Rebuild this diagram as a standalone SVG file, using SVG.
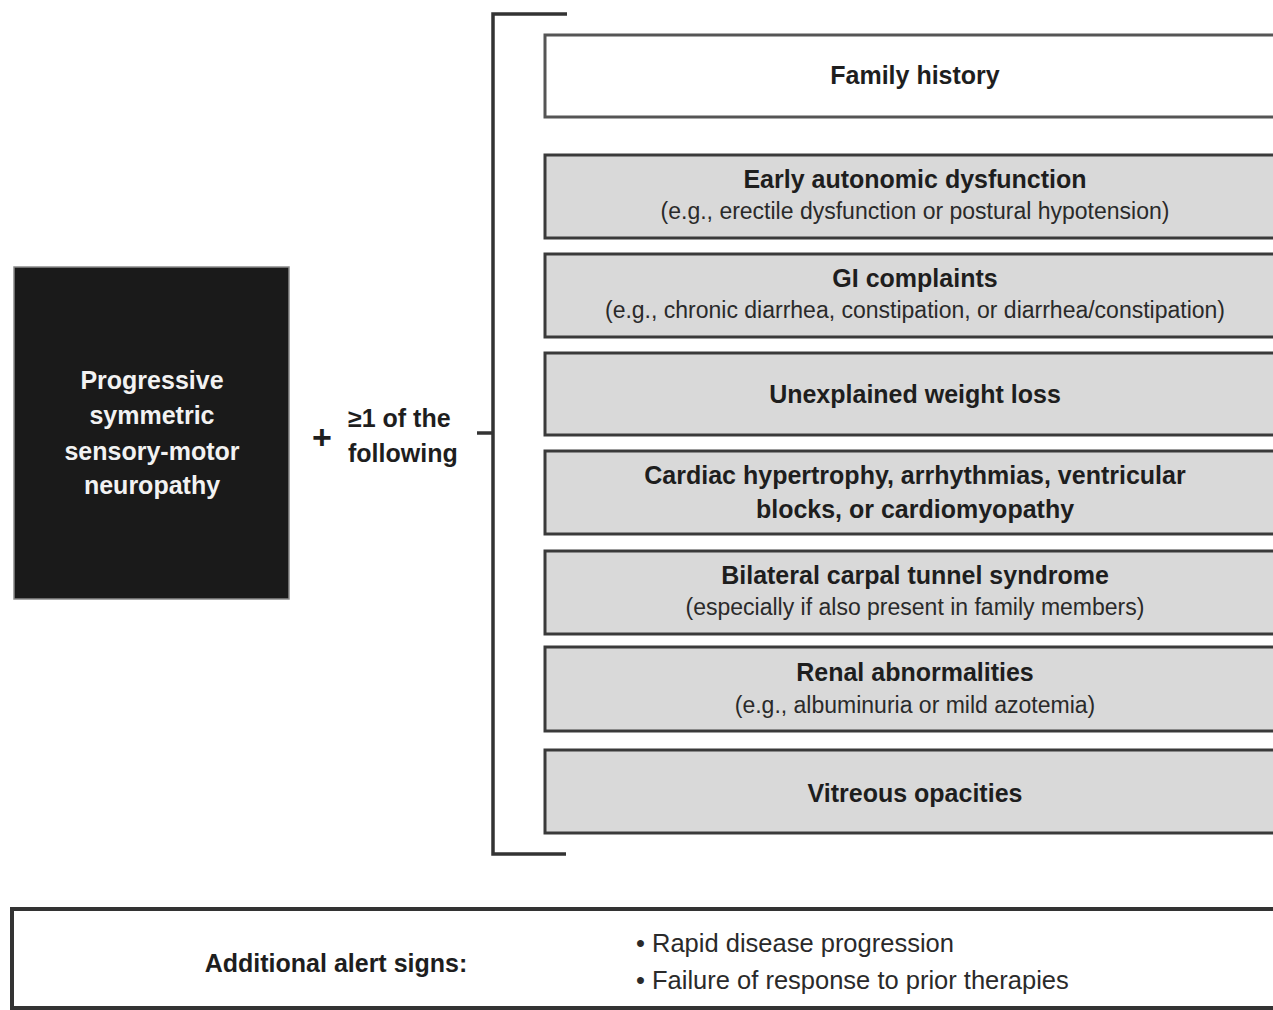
<svg xmlns="http://www.w3.org/2000/svg" width="1273" height="1010" viewBox="0 0 1273 1010">
<style>
.box{fill:#d9d9d9;stroke:#3a3a3a;stroke-width:3}
.wbox{fill:#ffffff;stroke:#555;stroke-width:3}
.t{font-family:"Liberation Sans",Arial,sans-serif;font-weight:bold;font-size:25px;fill:#1e1e1e;text-anchor:middle}
.s{font-family:"Liberation Sans",Arial,sans-serif;font-size:23px;fill:#2a2a2a;text-anchor:middle}
.w{font-family:"Liberation Sans",Arial,sans-serif;font-weight:bold;font-size:25px;fill:#f2f2f2;text-anchor:middle}
.b{font-family:"Liberation Sans",Arial,sans-serif;font-size:25.5px;fill:#2a2a2a}
.line{fill:none;stroke:#333;stroke-width:3.5}
</style>
<rect width="1273" height="1010" fill="#ffffff"/>
<g id="main">
<rect x="14" y="267" width="275" height="332" fill="#1a1a1a" stroke="#8a8a8a" stroke-width="1.5"/>
<text class="w" x="152" y="389">Progressive</text>
<text class="w" x="152" y="424">symmetric</text>
<text class="w" x="152" y="460">sensory-motor</text>
<text class="w" x="152" y="494">neuropathy</text>
</g>
<g id="plus-label">
<text class="t" x="322" y="449" style="font-size:34px">+</text>
<text class="t" x="348" y="427" style="text-anchor:start">≥1 of the</text>
<text class="t" x="348" y="462" style="text-anchor:start">following</text>
</g>
<g id="connectors">
<path class="line" d="M567 14 H493 V854 H566"/>
<line class="line" x1="477" y1="433" x2="493" y2="433"/>
</g>
<g id="family-history">
<rect class="wbox" x="545" y="35" width="760" height="82"/>
<text class="t" x="915" y="84">Family history</text>
</g>
<g id="autonomic">
<rect class="box" x="545" y="155" width="760" height="83"/>
<text class="t" x="915" y="188">Early autonomic dysfunction</text>
<text class="s" x="915" y="219">(e.g., erectile dysfunction or postural hypotension)</text>
</g>
<g id="gi">
<rect class="box" x="545" y="254" width="760" height="83"/>
<text class="t" x="915" y="287">GI complaints</text>
<text class="s" x="915" y="318">(e.g., chronic diarrhea, constipation, or diarrhea/constipation)</text>
</g>
<g id="weight">
<rect class="box" x="545" y="353" width="760" height="82"/>
<text class="t" x="915" y="403">Unexplained weight loss</text>
</g>
<g id="cardiac">
<rect class="box" x="545" y="451" width="760" height="83"/>
<text class="t" x="915" y="484">Cardiac hypertrophy, arrhythmias, ventricular</text>
<text class="t" x="915" y="518">blocks, or cardiomyopathy</text>
</g>
<g id="carpal">
<rect class="box" x="545" y="551" width="760" height="83"/>
<text class="t" x="915" y="584">Bilateral carpal tunnel syndrome</text>
<text class="s" x="915" y="615">(especially if also present in family members)</text>
</g>
<g id="renal">
<rect class="box" x="545" y="647" width="760" height="84"/>
<text class="t" x="915" y="681">Renal abnormalities</text>
<text class="s" x="915" y="713">(e.g., albuminuria or mild azotemia)</text>
</g>
<g id="vitreous">
<rect class="box" x="545" y="750" width="760" height="83"/>
<text class="t" x="915" y="802">Vitreous opacities</text>
</g>
<g id="alert">
<rect x="12" y="909" width="1300" height="99" fill="#ffffff" stroke="#333" stroke-width="4"/>
<text class="t" x="336" y="972">Additional alert signs:</text>
<text class="b" x="636" y="952">• Rapid disease progression</text>
<text class="b" x="636" y="989">• Failure of response to prior therapies</text>
</g>
</svg>
